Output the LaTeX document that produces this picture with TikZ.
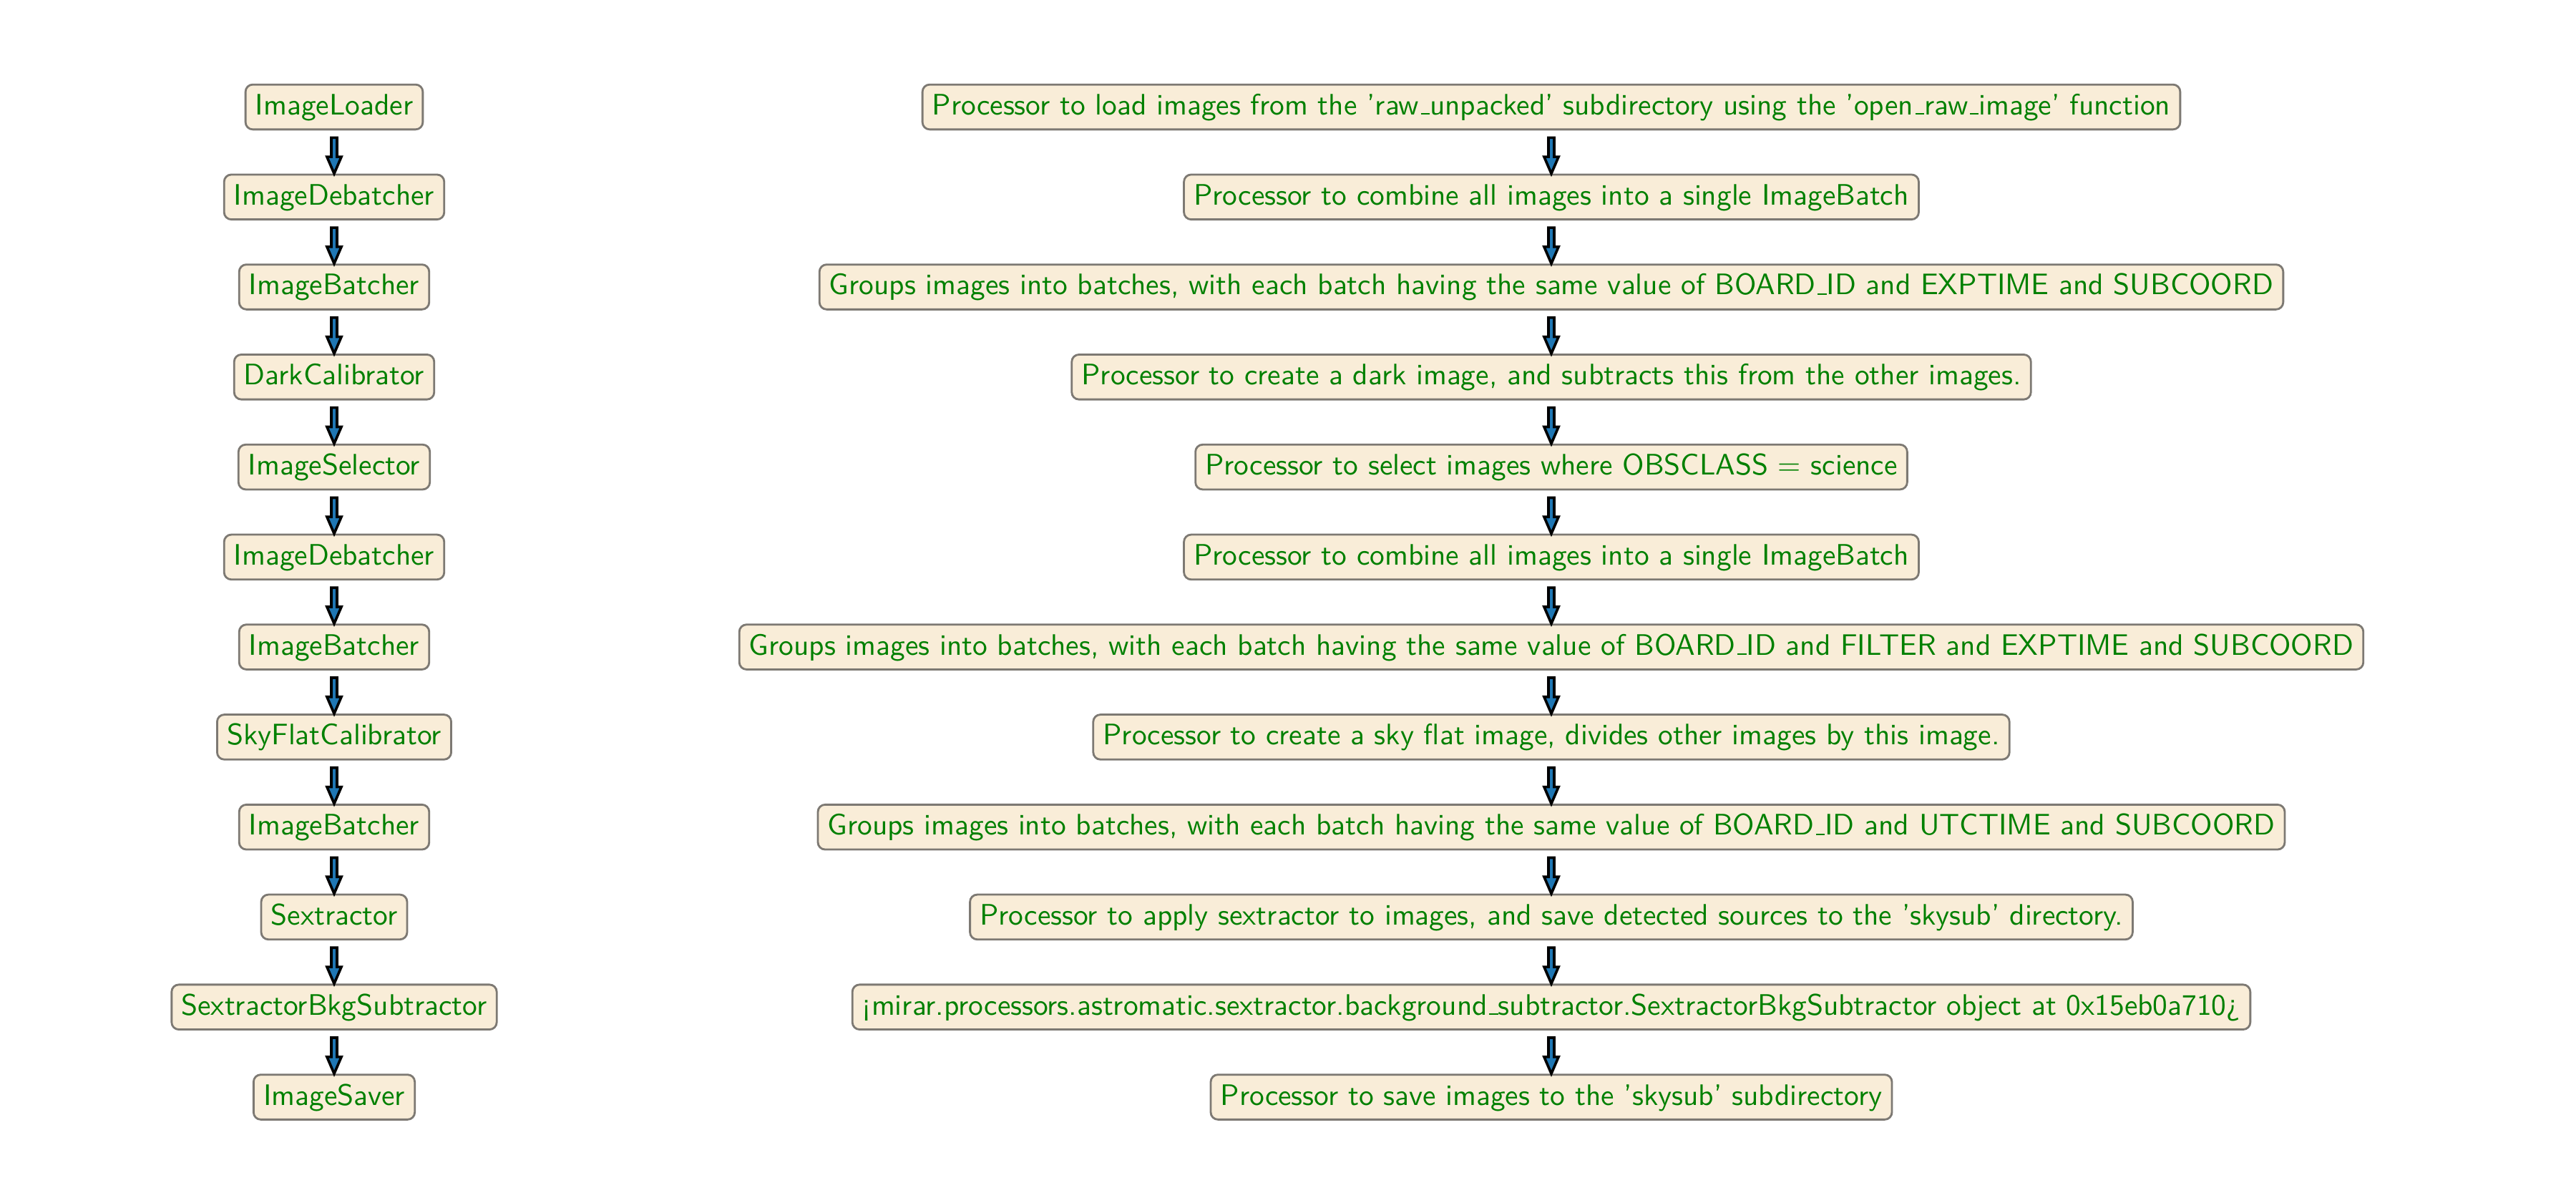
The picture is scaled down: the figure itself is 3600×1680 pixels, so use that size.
\documentclass[tikz,border=0pt]{standalone}
\usetikzlibrary{calc}
\definecolor{boxfill}{RGB}{249,237,216}
\definecolor{boxdraw}{RGB}{125,121,115}
\definecolor{txtgreen}{RGB}{0,128,0}
\definecolor{arrowblue}{RGB}{31,119,180}
\newcommand{\us}{\leavevmode\kern.06em\vbox{\hrule width.3em height.5pt}}
\tikzset{
  stage/.style={draw=boxdraw, fill=boxfill, line width=0.7pt, rounded corners=2.5pt,
    text=txtgreen, font=\sffamily\fontsize{10.27pt}{12pt}\selectfont, inner sep=3.4pt,
    text height=7.1pt, text depth=1.65pt},
  arrowbody/.style={draw=black, fill=arrowblue, line width=0.9pt, line join=miter}
}
\newcommand{\fatarr}[2]{%
  \draw[arrowbody] let \p1=(#1.south), \p2=(#2.north) in
    ({\x2-1pt},{\y1-2.5pt}) -- ({\x2-1pt},{\y2+5.8pt}) -- ({\x2-2.5pt},{\y2+5.8pt})
    -- (\x2,\y2) -- ({\x2+2.5pt},{\y2+5.8pt}) -- ({\x2+1pt},{\y2+5.8pt})
    -- ({\x2+1pt},{\y1-2.5pt}) -- cycle;}
\begin{document}
\begin{tikzpicture}[x=0.2481pt, y=-0.2481pt]
\useasboundingbox (0,0) rectangle (3600,1680);
% left column
\node[stage] (L1)  at (467,149.5)  {ImageLoader};
\node[stage] (L2)  at (467,275.3)  {ImageDebatcher};
\node[stage] (L3)  at (467,401.0)  {ImageBatcher};
\node[stage] (L4)  at (467,526.8)  {DarkCalibrator};
\node[stage] (L5)  at (467,652.6)  {ImageSelector};
\node[stage] (L6)  at (467,778.4)  {ImageDebatcher};
\node[stage] (L7)  at (467,904.1)  {ImageBatcher};
\node[stage] (L8)  at (467,1029.9) {SkyFlatCalibrator};
\node[stage] (L9)  at (467,1155.7) {ImageBatcher};
\node[stage] (L10) at (467,1281.4) {Sextractor};
\node[stage] (L11) at (467,1407.2) {SextractorBkgSubtractor};
\node[stage] (L12) at (467,1533.0) {ImageSaver};
% right column
\node[stage] (R1)  at (2168,149.5)  {Processor to load images from the 'raw\us unpacked' subdirectory using the 'open\us raw\us image' function};
\node[stage] (R2)  at (2168,275.3)  {Processor to combine all images into a single ImageBatch};
\node[stage] (R3)  at (2168,401.0)  {Groups images into batches, with each batch having the same value of BOARD\us ID and EXPTIME and SUBCOORD};
\node[stage] (R4)  at (2168,526.8)  {Processor to create a dark image, and subtracts this from the other images.};
\node[stage] (R5)  at (2168,652.6)  {Processor to select images where OBSCLASS = science};
\node[stage] (R6)  at (2168,778.4)  {Processor to combine all images into a single ImageBatch};
\node[stage] (R7)  at (2168,904.1)  {Groups images into batches, with each batch having the same value of BOARD\us ID and FILTER and EXPTIME and SUBCOORD};
\node[stage] (R8)  at (2168,1029.9) {Processor to create a sky flat image, divides other images by this image.};
\node[stage] (R9)  at (2168,1155.7) {Groups images into batches, with each batch having the same value of BOARD\us ID and UTCTIME and SUBCOORD};
\node[stage] (R10) at (2168,1281.4) {Processor to apply sextractor to images, and save detected sources to the 'skysub' directory.};
\node[stage] (R11) at (2168,1407.2) {¡mirar.processors.astromatic.sextractor.background\us subtractor.SextractorBkgSubtractor object at 0x15eb0a710¿};
\node[stage] (R12) at (2168,1533.0) {Processor to save images to the 'skysub' subdirectory};
% arrows
\foreach \a/\b in {1/2,2/3,3/4,4/5,5/6,6/7,7/8,8/9,9/10,10/11,11/12}{
  \fatarr{L\a}{L\b}
  \fatarr{R\a}{R\b}
}
\end{tikzpicture}
\end{document}
